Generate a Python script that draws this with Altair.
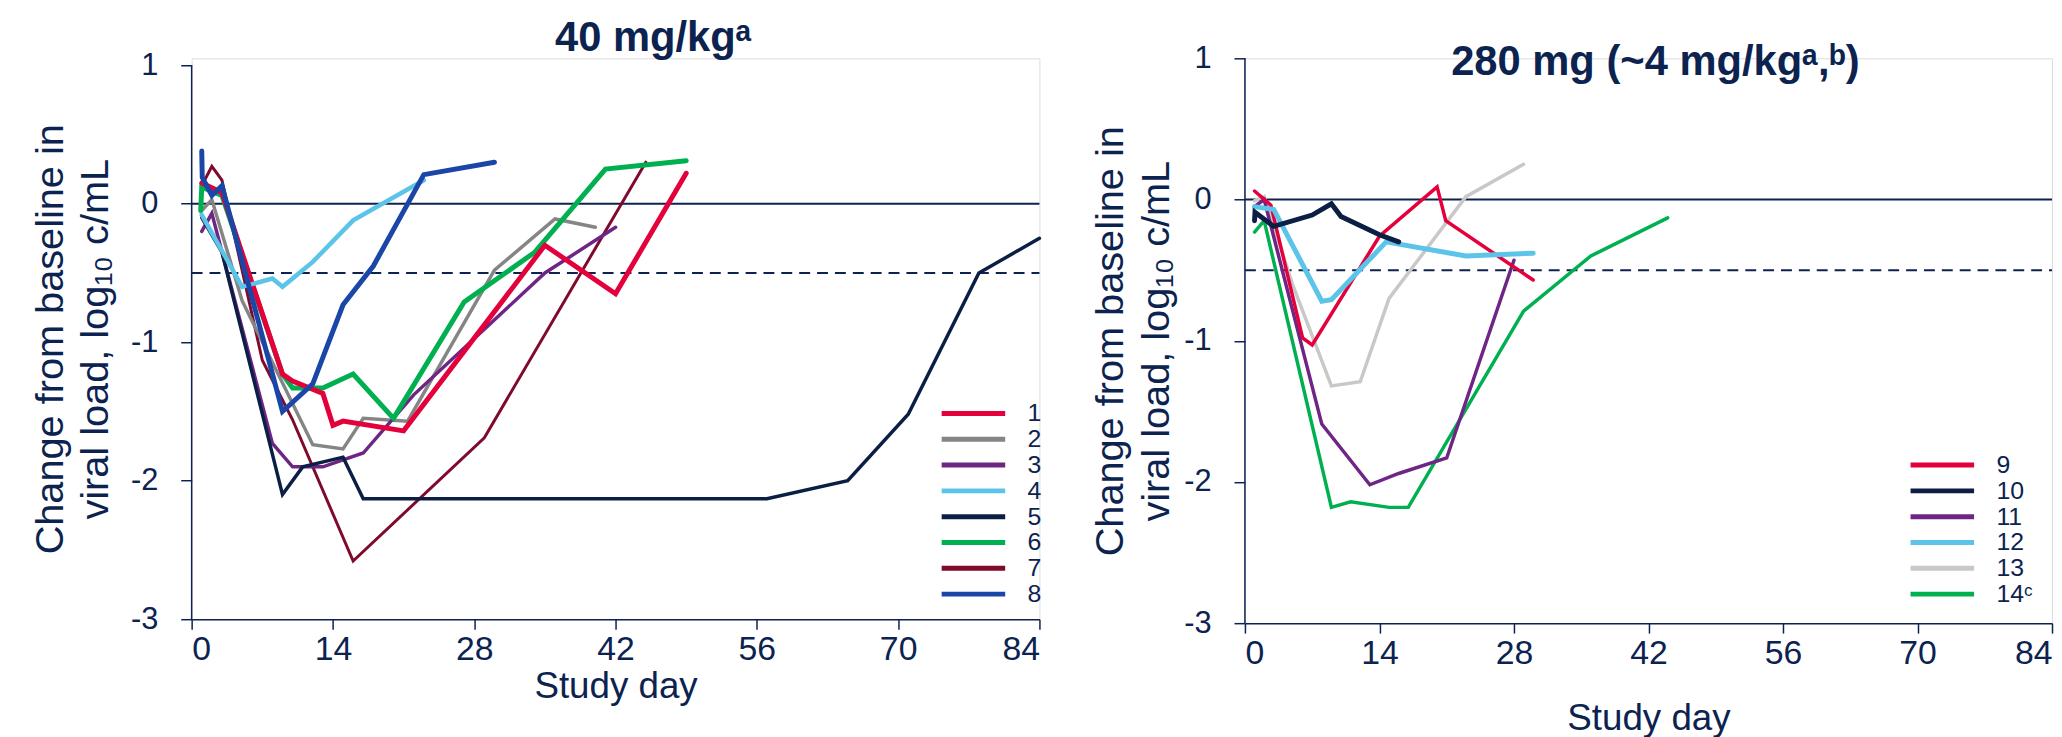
import altair as alt
import pandas as pd

NAVY = "#0c2350"
SANS = "Liberation Sans, Arial, sans-serif"

# ---------------- Left panel: 40 mg/kg ----------------
left_ids = ["1", "2", "3", "4", "5", "6", "7", "8"]
left_colors = ["#e4003b", "#858585", "#6e2585", "#5bc4e8", "#0b1f45", "#00b050", "#7f0a2b", "#1a46a8"]
left_widths = [5, 3.5, 3.5, 4.5, 3.5, 5, 3, 5]
left_draw_order = ["7", "2", "3", "5", "6", "1", "4", "8"]

s1_day = [1, 3, 9, 10, 13, 14, 15, 21, 35, 42, 49]
s1_val = [0.15, 0.08, -1.23, -1.28, -1.37, -1.6, -1.57, -1.64, -0.30, -0.65, 0.22]
s2_day = [1, 2, 5, 12, 15, 17, 21.4, 30, 36, 40]
s2_val = [-0.05, 0.03, -0.7, -1.74, -1.77, -1.55, -1.57, -0.48, -0.11, -0.17]
s3_day = [1, 2, 8, 10, 13, 17, 22, 35, 42]
s3_val = [-0.2, -0.07, -1.73, -1.9, -1.9, -1.8, -1.38, -0.5, -0.17]
s4_day = [1, 5, 8, 9, 12, 16, 23]
s4_val = [-0.08, -0.6, -0.54, -0.6, -0.42, -0.12, 0.17]
s5_day = [1, 3, 9, 11, 15, 17, 57, 65, 71, 78, 84]
s5_val = [-0.1, -0.35, -2.1, -1.9, -1.83, -2.13, -2.13, -2.0, -1.52, -0.5, -0.25]
s6_day = [0.9, 1, 3, 9, 10, 13, 16, 20, 27, 34, 41, 49]
s6_val = [-0.05, 0.12, 0.06, -1.23, -1.33, -1.33, -1.23, -1.55, -0.71, -0.35, 0.25, 0.31]
s7_day = [1, 2, 3, 7, 10, 16, 29, 45]
s7_val = [0.13, 0.27, 0.17, -1.13, -1.56, -2.58, -1.69, 0.30]
s8_day = [1, 1.05, 2, 3, 9, 12, 15, 18, 23, 30]
s8_val = [0.38, 0.19, 0.06, 0.13, -1.5, -1.3, -0.73, -0.45, 0.21, 0.30]

left_days = {"1": s1_day, "2": s2_day, "3": s3_day, "4": s4_day,
             "5": s5_day, "6": s6_day, "7": s7_day, "8": s8_day}
left_vals = {"1": s1_val, "2": s2_val, "3": s3_val, "4": s4_val,
             "5": s5_val, "6": s6_val, "7": s7_val, "8": s8_val}

# ---------------- Right panel: 280 mg ----------------
right_ids = ["9", "10", "11", "12", "13", "14ᶜ"]
right_colors = ["#e4003b", "#0b1f45", "#6e2585", "#5bc4e8", "#c8c8c8", "#00b050"]
right_widths = [3.5, 5, 3.5, 5, 3.5, 3.5]
right_draw_order = ["13", "14ᶜ", "11", "9", "12", "10"]

s9_day = [1, 2.7, 6, 7, 14, 20, 20.9, 30]
s9_val = [0.06, -0.04, -0.98, -1.03, -0.26, 0.09, -0.15, -0.57]
s10_day = [1, 1.05, 3, 7, 9, 10, 14, 16]
s10_val = [-0.15, -0.09, -0.19, -0.11, -0.03, -0.12, -0.25, -0.30]
s11_day = [1, 2, 8, 13, 16, 21, 28]
s11_val = [-0.05, 0.0, -1.59, -2.02, -1.94, -1.83, -0.43]
s12_day = [1, 3, 8, 9, 14.7, 23, 30]
s12_val = [-0.05, -0.07, -0.72, -0.71, -0.30, -0.40, -0.38]
s13_day = [1, 2, 5, 9, 12, 15, 23, 29]
s13_val = [-0.01, 0.02, -0.61, -1.32, -1.29, -0.70, 0.02, 0.25]
s14_day = [1, 2, 9, 11, 15, 17, 29, 36, 44]
s14_val = [-0.23, -0.15, -2.18, -2.14, -2.18, -2.18, -0.79, -0.40, -0.13]

right_days = {"9": s9_day, "10": s10_day, "11": s11_day, "12": s12_day,
              "13": s13_day, "14ᶜ": s14_day}
right_vals = {"9": s9_val, "10": s10_val, "11": s11_val, "12": s12_val,
              "13": s13_val, "14ᶜ": s14_val}

x_ticks = [0, 14, 28, 42, 56, 70, 84]
y_ticks = [-3, -2, -1, 0, 1]
ref_zero = [0]
ref_dash = [-0.5]


def frame(days, vals, order, ids, widths):
    wmap = dict(zip(ids, widths))
    rows = []
    for sid in order:
        for d, v in zip(days[sid], vals[sid]):
            rows.append({"series": sid, "day": d, "value": v, "w": wmap[sid]})
    return pd.DataFrame(rows)


def panel(df, ids, colors, title, title_dx, title_offset, width, height,
          ymax, legend_x, legend_y, xtitle_pad, ytitle_pad):
    xs = alt.Scale(domain=[0, 84], nice=False, zero=False)
    ys = alt.Scale(domain=[-3, ymax], nice=False, zero=False)
    x_axis = alt.Axis(values=x_ticks, grid=False, domainColor=NAVY, domainWidth=1.5,
                      tickColor=NAVY, tickWidth=1.5, tickSize=10,
                      labelFont=SANS, labelFontSize=34, labelColor=NAVY, labelPadding=4,
                      title="Study day", titleFont=SANS, titleFontSize=37,
                      titleFontWeight="normal", titleColor=NAVY, titlePadding=xtitle_pad)
    y_axis = alt.Axis(values=y_ticks, grid=False, domain=False,
                      tickColor=NAVY, tickWidth=1.5, tickSize=11,
                      labelExpr="'' + datum.value",
                      labelFont=SANS, labelFontSize=31, labelColor=NAVY, labelPadding=23,
                      title=["Change from baseline in", "viral load, log₁₀ c/mL"],
                      titleFont=SANS, titleFontSize=40, titleFontWeight="normal",
                      titleColor=NAVY, titlePadding=ytitle_pad, titleLineHeight=46)

    lines = alt.Chart(df).mark_line(strokeCap="round").encode(
        x=alt.X("day:Q", scale=xs, axis=x_axis),
        y=alt.Y("value:Q", scale=ys, axis=y_axis),
        color=alt.Color("series:N", sort=ids,
                        scale=alt.Scale(domain=ids, range=colors),
                        legend=alt.Legend(orient="none", legendX=legend_x, legendY=legend_y,
                                          title=None, symbolType="stroke", symbolSize=4096,
                                          symbolStrokeWidth=5, clipHeight=25.5, rowPadding=0,
                                          labelFont=SANS, labelFontSize=25, labelColor=NAVY,
                                          labelOffset=20, padding=0)),
        strokeWidth=alt.StrokeWidth("w:Q", scale=None),
    )

    zero = alt.Chart(pd.DataFrame({"v": ref_zero})).mark_rule(color=NAVY, strokeWidth=2).encode(
        x=alt.datum(0), x2=alt.datum(84), y=alt.Y("v:Q"))
    dash = alt.Chart(pd.DataFrame({"v": ref_dash})).mark_rule(
        color=NAVY, strokeWidth=2, strokeDash=[11, 7]).encode(
        x=alt.datum(0), x2=alt.datum(84), y=alt.Y("v:Q"))
    yline = alt.Chart(pd.DataFrame({"lo": [-3], "hi": [1]})).mark_rule(
        color=NAVY, strokeWidth=1.5).encode(
        x=alt.datum(0), y=alt.Y("lo:Q"), y2="hi:Q")

    return alt.layer(yline, zero, dash, lines).properties(
        width=width, height=height,
        title=alt.TitleParams(text=title, font=SANS, fontWeight="bold", fontSize=42,
                              color=NAVY, frame="group", anchor="middle",
                              dx=title_dx, offset=title_offset),
    )


left_df = frame(left_days, left_vals, left_draw_order, left_ids, left_widths)
right_df = frame(right_days, right_vals, right_draw_order, right_ids, right_widths)

left = panel(left_df, left_ids, left_colors, "40 mg/kgᵃ", 38, -11,
             854, 565, 1.05, 753, 345, 2, 15)
right = panel(right_df, right_ids, right_colors, "280 mg (~4 mg/kgᵃ,ᵇ)", 7, -42,
              813, 569, 1.0, 668, 397, 30, 7.5)

chart = alt.hconcat(left, right, spacing=207, bounds="flush").resolve_scale(
    color="independent"
).resolve_legend(color="independent").properties(
    padding={"left": 21, "top": 6, "right": 0, "bottom": 0}
).configure_view(stroke=None).configure(background="white")

chart.save("out.html", embed_options={"renderer": "svg", "actions": False})
